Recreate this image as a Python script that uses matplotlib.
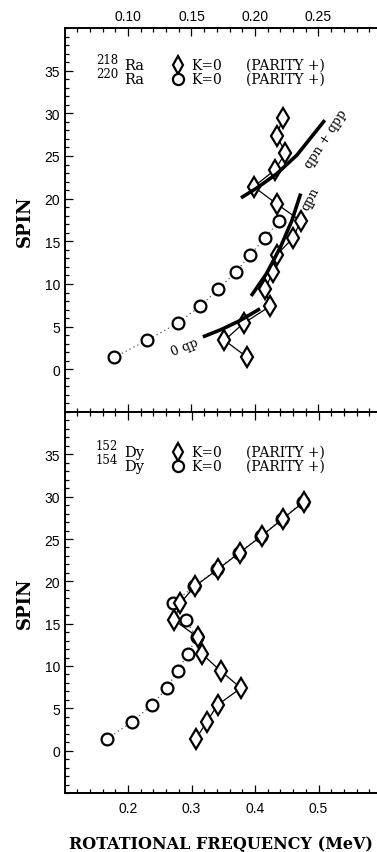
import matplotlib
matplotlib.use("Agg")
import matplotlib.pyplot as plt
from matplotlib.ticker import MultipleLocator

# ---- data ----
# top panel: Ra isotopes, x in the top-axis units (MeV)
ra_spin218 = [1.4, 3.4, 5.4, 7.4, 9.4, 11.4, 13.4, 15.4, 17.4, 19.4, 21.4, 23.4, 25.4, 27.4, 29.4]
ra_freq218 = [0.194, 0.176, 0.191, 0.212, 0.208, 0.214, 0.217, 0.230, 0.236,
              0.217, 0.199, 0.216, 0.224, 0.217, 0.222]
ra_spin220 = [1.4, 3.4, 5.4, 7.4, 9.4, 11.4, 13.4, 15.4, 17.4]
ra_freq220 = [0.089, 0.115, 0.139, 0.157, 0.171, 0.185, 0.196, 0.208, 0.219]

# calculated bands (thick lines)
qp0_freq = [0.159, 0.174, 0.188, 0.204]
qp0_spin = [3.8, 4.7, 5.7, 7.1]
qpn_freq = [0.197, 0.209, 0.220, 0.229, 0.236]
qpn_spin = [8.6, 11.2, 14.3, 17.4, 20.6]
qpnp_freq = [0.189, 0.201, 0.217, 0.233, 0.255]
qpnp_spin = [20.1, 21.2, 22.9, 25.1, 29.2]

# bottom panel: Dy isotopes, x in bottom-axis units (MeV)
dy_spin152 = [1.4, 3.4, 5.4, 7.4, 9.4, 11.4, 13.4, 15.4, 17.4, 19.4, 21.4, 23.4, 25.4, 27.4, 29.4]
dy_freq152 = [0.307, 0.324, 0.341, 0.378, 0.346, 0.317, 0.310, 0.273, 0.282,
              0.305, 0.341, 0.376, 0.411, 0.444, 0.477]
dy_spin154 = [1.4, 3.4, 5.4, 7.4, 9.4, 11.4, 13.4, 15.4, 17.4, 19.4, 21.4, 23.4, 25.4, 27.4, 29.4]
dy_freq154 = [0.167, 0.206, 0.238, 0.261, 0.278, 0.294, 0.308, 0.291, 0.271,
              0.304, 0.340, 0.375, 0.410, 0.443, 0.475]

W, H = 377, 853
fig = plt.figure(figsize=(W / 100, H / 100), dpi=100)

def px(x, y):
    return x / W, 1 - y / H

left, right = 65 / W, 1.0
top_ax = fig.add_axes([left, 1 - 413 / H, right - left, (413 - 29) / H])
bot_ax = fig.add_axes([left, 1 - 794 / H, right - left, (794 - 413) / H])

tick_font = dict(family="Liberation Sans", size=10)
serif = ["DejaVu Serif"]

for ax in (top_ax, bot_ax):
    ax.set_ylim(-5, 40)
    ax.yaxis.set_major_locator(MultipleLocator(5))
    ax.yaxis.set_minor_locator(MultipleLocator(1))
    ax.set_yticks([0, 5, 10, 15, 20, 25, 30, 35])
    ax.spines["right"].set_visible(False)
    for s in ("left", "top", "bottom"):
        ax.spines[s].set_linewidth(1.4)
    ax.tick_params(which="both", direction="in", right=False, width=0.9)
    ax.tick_params(which="major", length=6)
    ax.tick_params(which="minor", length=3)
    for lab in ax.get_yticklabels():
        lab.set_fontfamily(tick_font["family"])
        lab.set_fontsize(tick_font["size"])
    ax.set_ylabel("SPIN", family=serif, fontsize=13, fontweight="bold", labelpad=8)

# top panel
top_ax.set_xlim(0.0504, 0.2961)
top_ax.xaxis.set_major_locator(MultipleLocator(0.05))
top_ax.xaxis.set_minor_locator(MultipleLocator(0.01))
top_ax.set_xticks([0.10, 0.15, 0.20, 0.25])
top_ax.set_xticklabels(["0.10", "0.15", "0.20", "0.25"])
top_ax.tick_params(axis="x", which="both", top=True, bottom=True,
                   labeltop=True, labelbottom=False)
for lab in top_ax.get_xticklabels():
    lab.set_fontfamily(tick_font["family"])
    lab.set_fontsize(tick_font["size"])

top_ax.plot(ra_freq220, ra_spin220, ls=(0, (1, 2.5)), color="0.35", lw=0.9,
            marker="o", ms=8.5, mfc="white", mec="black", mew=1.6)
top_ax.plot(ra_freq218, ra_spin218, ls="-", color="black", lw=0.9,
            marker="d", ms=10, mfc="white", mec="black", mew=1.6)
for fx, sy in ((qp0_freq, qp0_spin), (qpn_freq, qpn_spin), (qpnp_freq, qpnp_spin)):
    top_ax.plot(fx, sy, color="black", lw=2.6, solid_capstyle="butt")

top_ax.text(0.145, 2.7, "0 qp", family=serif, fontsize=9, rotation=22,
            ha="center", va="center")
top_ax.text(0.2438, 20.0, "qpn", family=serif, fontsize=9, rotation=62,
            ha="center", va="center")
top_ax.text(0.2559, 27.1, "qpn + qpp", family=serif, fontsize=9, rotation=57,
            ha="center", va="center")

# bottom panel
bot_ax.set_xlim(0.1008, 0.5921)
bot_ax.xaxis.set_major_locator(MultipleLocator(0.1))
bot_ax.xaxis.set_minor_locator(MultipleLocator(0.02))
bot_ax.set_xticks([0.2, 0.3, 0.4, 0.5])
bot_ax.set_xticklabels(["0.2", "0.3", "0.4", "0.5"])
bot_ax.tick_params(axis="x", which="both", top=True, bottom=True, pad=6)
for lab in bot_ax.get_xticklabels():
    lab.set_fontfamily(tick_font["family"])
    lab.set_fontsize(tick_font["size"])

bot_ax.plot(dy_freq154, dy_spin154, ls=(0, (1, 2.5)), color="0.35", lw=0.9,
            marker="o", ms=8.5, mfc="white", mec="black", mew=1.6)
bot_ax.plot(dy_freq152, dy_spin152, ls="-", color="black", lw=0.9,
            marker="d", ms=10, mfc="white", mec="black", mew=1.6)

bot_ax.set_xlabel("ROTATIONAL FREQUENCY (MeV)", family=serif, fontsize=11.5,
                  fontweight="bold", labelpad=14)

# legends, drawn by hand
def legend_row(y, mass, elem, marker):
    fig.text(*px(96, y - 6), mass, family=serif, fontsize=8.5, va="center")
    fig.text(*px(124, y), elem, family=serif, fontsize=10.5, va="center")
    fig.add_artist(plt.Line2D([178 / W], [1 - y / H], marker=marker,
                              ms=9 if marker == "d" else 8, mfc="white",
                              mec="black", mew=1.6, ls="none"))
    fig.text(*px(191, y), "K=0", family=serif, fontsize=10, va="center")
    fig.text(*px(246, y), "(PARITY +)", family=serif, fontsize=10, va="center")

legend_row(66, "218", "Ra", "d")
legend_row(80, "220", "Ra", "o")
legend_row(453, "152", "Dy", "d")
legend_row(467, "154", "Dy", "o")

fig.savefig("out.png", dpi=100)
